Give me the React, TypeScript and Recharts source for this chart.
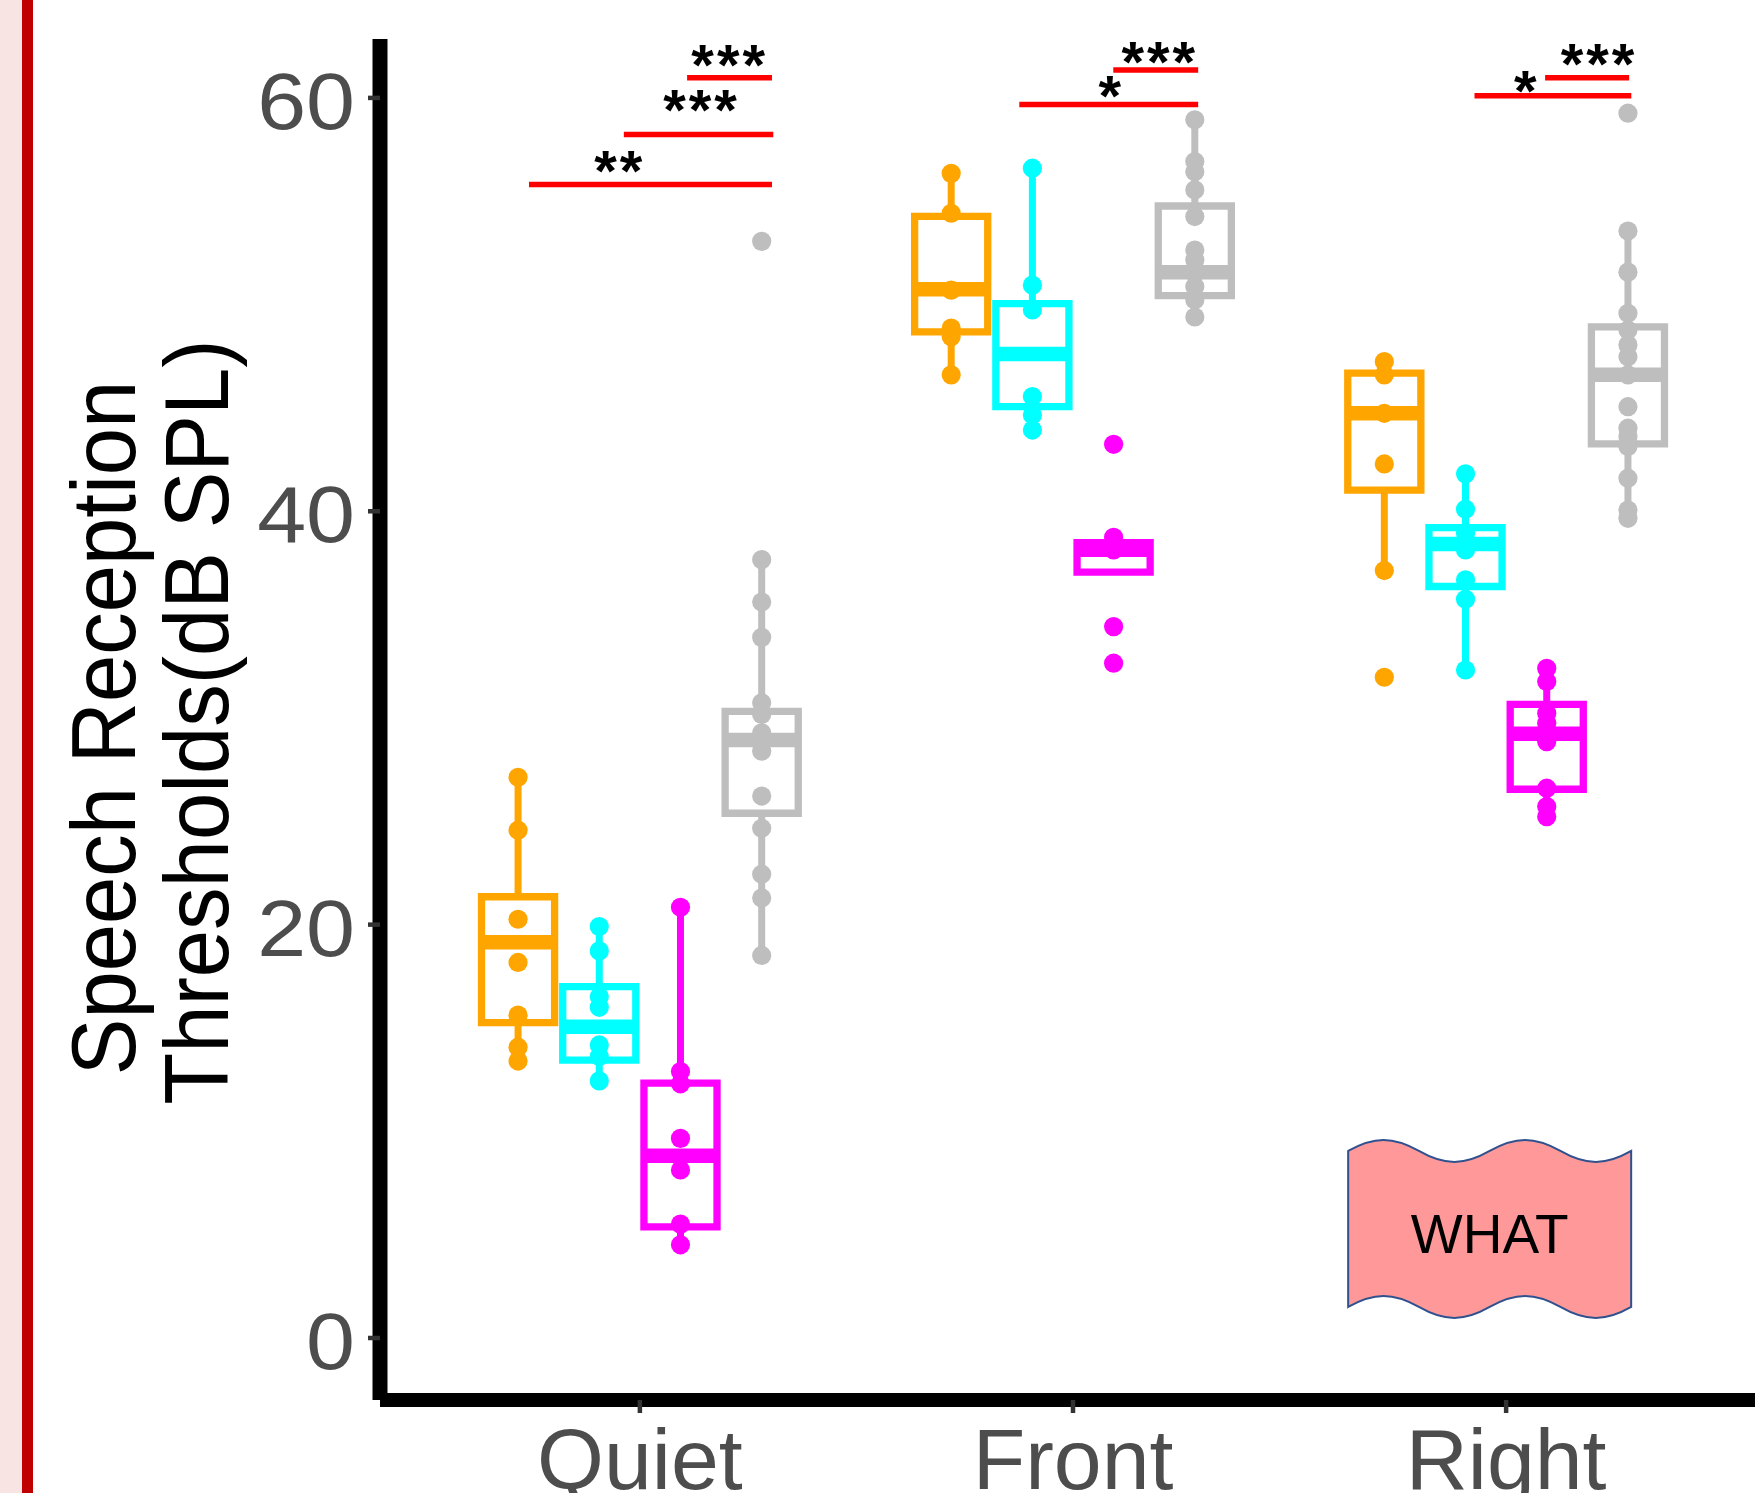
import React from 'react';
import { ComposedChart, Scatter, XAxis, YAxis } from 'recharts';

// ---------- data ----------
const categories = ['Quiet', 'Front', 'Right'];
const yTicks = [0, 20, 40, 60];
const groupColors = ['#FFA500', '#00FFFF', '#FF00FF', '#BEBEBE'];

// box stats per category: [lower whisker, Q1, median, Q3, upper whisker]
const orangeBoxes = [
  [13.4, 15.26, 19.15, 21.35, 27.13],
  [46.6, 48.68, 50.74, 54.27, 56.35],
  [37.13, 41.02, 44.74, 46.68, 47.24],
];
const cyanBoxes = [
  [12.44, 13.44, 15.06, 17.0, 19.91],
  [43.93, 45.06, 47.61, 50.05, 56.6],
  [32.32, 36.36, 38.42, 39.21, 41.81],
];
const magentaBoxes = [
  [4.51, 5.38, 8.82, 12.33, 20.84],
  [37.06, 37.06, 38.14, 38.48, 38.74],
  [25.22, 26.55, 29.23, 30.66, 32.4],
];
const grayBoxes = [
  [18.51, 25.39, 28.93, 30.32, 37.66],
  [49.4, 50.43, 51.57, 54.77, 58.94],
  [39.66, 43.26, 46.6, 48.92, 53.56],
];

// individual observations per category
const orangePoints = [
  [27.13, 24.57, 20.26, 18.17, 15.62, 14.07, 13.4],
  [56.35, 54.42, 50.7, 48.86, 48.45, 46.6],
  [47.24, 46.6, 44.74, 42.29, 37.13, 31.97],
];
const cyanPoints = [
  [19.91, 18.73, 16.51, 16.0, 14.18, 13.62, 12.44],
  [56.6, 50.94, 49.74, 45.55, 44.66, 43.93],
  [41.81, 40.1, 38.94, 38.45, 38.13, 36.68, 35.74, 32.32],
];
const magentaPoints = [
  [20.84, 12.89, 12.3, 9.66, 8.13, 5.51, 4.51],
  [43.24, 38.74, 38.13, 34.42, 32.65],
  [32.4, 31.76, 30.23, 29.74, 28.85, 26.6, 25.71, 25.22],
];
const grayPoints = [
  [53.06, 37.66, 35.61, 33.9, 30.73, 30.17, 29.28, 28.39, 26.22, 24.66, 22.44, 21.29, 18.51],
  [58.94, 56.92, 56.43, 55.55, 54.26, 52.64, 52.16, 51.51, 50.87, 50.22, 49.4],
  [59.26, 53.56, 51.57, 49.58, 48.77, 48.05, 47.48, 46.6, 45.06, 44.02, 43.61, 43.13, 41.6, 40.06, 39.66],
];

// significance brackets (x in category units, y in dB SPL)
const sigBars = [
  { x1: 1.109, x2: 1.305, y: 60.97, label: '***', lx: 1.204, ly: 61.96 },
  { x1: 0.963, x2: 1.308, y: 58.23, label: '***', lx: 1.139, ly: 59.76 },
  { x1: 0.744, x2: 1.305, y: 55.81, label: '**', lx: 0.95, ly: 56.83 },
  { x1: 2.093, x2: 2.289, y: 61.35, label: '***', lx: 2.197, ly: 62.08 },
  { x1: 1.876, x2: 2.289, y: 59.68, label: '*', lx: 2.085, ly: 60.46 },
  { x1: 3.09, x2: 3.284, y: 60.97, label: '***', lx: 3.211, ly: 62.01 },
  { x1: 2.927, x2: 3.289, y: 60.1, label: '*', lx: 3.044, ly: 60.68 },
];

// annotation anchor
const note = [{ x: 2.962, y: 5.3, text: 'WHAT' }];

// ---------- layout helpers ----------
const FONT = 'Liberation Sans, Arial, Helvetica, sans-serif';
const DODGE = 0.75;
const NG = 4;
const HALF = (DODGE / NG) * 0.9 / 2;
const groupX = (c: number, g: number) => c + 1 + (g - (NG - 1) / 2) * (DODGE / NG);

const allBoxes = [orangeBoxes, cyanBoxes, magentaBoxes, grayBoxes];
const allPoints = [orangePoints, cyanPoints, magentaPoints, grayPoints];

const Nothing = () => <g />;

const XTick = (props: any) => {
  const { x, y, payload } = props;
  return (
    <text x={x} y={y + 76} textAnchor="middle" fill="#4D4D4D" fontSize={86} fontFamily={FONT}>
      {categories[Math.round(payload.value) - 1]}
    </text>
  );
};

const YTick = (props: any) => {
  const { x, y, payload } = props;
  return (
    <text
      transform={`translate(${x + 2} ${y + 31}) scale(1.1 1)`}
      textAnchor="end"
      fill="#4D4D4D"
      fontSize={80}
      fontFamily={FONT}
    >
      {payload.value}
    </text>
  );
};

const StarShape = (props: any) => {
  const { cx, cy, payload } = props;
  const fs = 58;
  return (
    <text
      x={cx + 1.5}
      y={cy + 0.47 * fs}
      textAnchor="middle"
      fontSize={fs}
      fontWeight="bold"
      fontFamily={FONT}
      letterSpacing={3}
      fill="#000"
    >
      {payload.label}
    </text>
  );
};

const FlagShape = (props: any) => {
  const { cx, cy, payload } = props;
  const w = 141.5;
  const top = -77.5;
  const bot = 78.5;
  const h = 70.75;
  const a = 14.7;
  const up = `c ${h * 0.36} ${-a} ${h * 0.64} ${-a} ${h} 0`;
  const dn = `c ${h * 0.36} ${a} ${h * 0.64} ${a} ${h} 0`;
  const upL = `c ${-h * 0.36} ${-a} ${-h * 0.64} ${-a} ${-h} 0`;
  const dnL = `c ${-h * 0.36} ${a} ${-h * 0.64} ${a} ${-h} 0`;
  const d = `M ${-w} ${top} ${up} ${dn} ${up} ${dn} L ${w} ${bot} ${dnL} ${upL} ${dnL} ${upL} Z`;
  return (
    <g transform={`translate(${cx} ${cy})`}>
      <path d={d} fill="#FF9999" stroke="#2F528F" strokeWidth={2} />
      <text x={0} y={24.5} textAnchor="middle" fontSize={55} fontFamily={FONT} fill="#000">
        {payload.text}
      </text>
    </g>
  );
};

const PointShape = (color: string) => (props: any) => (
  <circle cx={props.cx} cy={props.cy} r={9.6} fill={color} />
);

// ---------- build layers ----------
const boxLayers: React.ReactNode[] = [];
allBoxes.forEach((boxes, g) => {
  const color = groupColors[g];
  boxes.forEach(([lo, q1, med, q3, hi], c) => {
    const xc = groupX(c, g);
    const x1 = xc - HALF;
    const x2 = xc + HALF;
    const k = `${g}-${c}`;
    if (hi > q3) {
      boxLayers.push(
        <Scatter
          key={`uw${k}`}
          data={[{ x: xc, y: q3 }, { x: xc, y: hi }]}
          line={{ stroke: color, strokeWidth: 7, strokeLinecap: 'butt' }}
          lineType="joint"
          shape={Nothing}
          fill={color}
          isAnimationActive={false}
        />
      );
    }
    if (lo < q1) {
      boxLayers.push(
        <Scatter
          key={`lw${k}`}
          data={[{ x: xc, y: lo }, { x: xc, y: q1 }]}
          line={{ stroke: color, strokeWidth: 7, strokeLinecap: 'butt' }}
          lineType="joint"
          shape={Nothing}
          fill={color}
          isAnimationActive={false}
        />
      );
    }
    boxLayers.push(
      <Scatter
        key={`bx${k}`}
        data={[
          { x: x1, y: q1 },
          { x: x2, y: q1 },
          { x: x2, y: q3 },
          { x: x1, y: q3 },
          { x: x1, y: q1 },
          { x: x2, y: q1 },
        ]}
        line={{ stroke: color, strokeWidth: 7.3, strokeLinejoin: 'miter', strokeLinecap: 'butt' }}
        lineType="joint"
        shape={Nothing}
        fill={color}
        isAnimationActive={false}
      />
    );
    boxLayers.push(
      <Scatter
        key={`md${k}`}
        data={[{ x: x1, y: med }, { x: x2, y: med }]}
        line={{ stroke: color, strokeWidth: 14.5, strokeLinecap: 'butt' }}
        lineType="joint"
        shape={Nothing}
        fill={color}
        isAnimationActive={false}
      />
    );
  });
});

const pointLayers = allPoints.map((pts, g) => {
  const data: { x: number; y: number }[] = [];
  pts.forEach((vals, c) => vals.forEach((v) => data.push({ x: groupX(c, g), y: v })));
  return (
    <Scatter
      key={`pt${g}`}
      data={data}
      fill={groupColors[g]}
      shape={PointShape(groupColors[g])}
      isAnimationActive={false}
    />
  );
});

const sigLayers = sigBars.map((b, i) => (
  <Scatter
    key={`sg${i}`}
    data={[{ x: b.x1, y: b.y }, { x: b.x2, y: b.y }]}
    line={{ stroke: '#FF0000', strokeWidth: 5.5, strokeLinecap: 'butt' }}
    lineType="joint"
    shape={Nothing}
    fill="#FF0000"
    isAnimationActive={false}
  />
));

const starData = sigBars.map((b) => ({ x: b.lx, y: b.ly, label: b.label }));

export default function App() {
  return (
    <div
      style={{
        position: 'absolute',
        left: 0,
        top: 0,
        width: 1755,
        height: 1493,
        overflow: 'hidden',
        background: '#FFFFFF',
      }}
    >
      <div style={{ position: 'absolute', left: 0, top: 0, width: 22, height: 1493, background: '#F9E4E4' }} />
      <div style={{ position: 'absolute', left: 22, top: 0, width: 11, height: 1493, background: '#C00000' }} />
      <div style={{ position: 'absolute', left: 0, top: 0 }}>
        <ComposedChart width={1766} height={1520} margin={{ top: 39, right: 0, bottom: 0, left: 0 }}>
          <XAxis
            xAxisId="top"
            orientation="top"
            type="number"
            dataKey="x"
            domain={[0.4, 3.6]}
            allowDataOverflow
            height={0}
            tick={false}
            tickLine={false}
            axisLine={{ stroke: '#333333', strokeWidth: 2 }}
          />
          <XAxis
            type="number"
            dataKey="x"
            domain={[0.4, 3.6]}
            ticks={[1, 2, 3]}
            allowDataOverflow
            height={120}
            tickSize={13}
            tickMargin={0}
            tick={XTick}
            tickLine={{ stroke: '#333333', strokeWidth: 4.5 }}
            axisLine={{ stroke: '#000000', strokeWidth: 14 }}
            interval={0}
          />
          <YAxis
            type="number"
            dataKey="y"
            domain={[-3.0, 62.85]}
            ticks={yTicks}
            allowDataOverflow
            width={380}
            tickSize={12}
            tickMargin={15}
            tick={YTick}
            tickLine={{ stroke: '#333333', strokeWidth: 4.5 }}
            axisLine={{ stroke: '#000000', strokeWidth: 15 }}
            interval={0}
          />
          {boxLayers}
          {pointLayers}
          {sigLayers}
          <Scatter data={starData} shape={StarShape} fill="#000" isAnimationActive={false} />
          <Scatter data={note} shape={FlagShape} fill="#FF9999" isAnimationActive={false} />
        </ComposedChart>
      </div>
      <svg width={380} height={1493} style={{ position: 'absolute', left: 0, top: 0 }}>
        <text
          transform="translate(135 728) scale(1.07 1) rotate(-90)"
          textAnchor="middle"
          fontSize={85}
          fontFamily={FONT}
          fill="#000"
        >
          Speech Reception
        </text>
        <text
          transform="translate(228 722) scale(1.07 1) rotate(-90)"
          textAnchor="middle"
          fontSize={85}
          fontFamily={FONT}
          fill="#000"
        >
          Thresholds(dB SPL)
        </text>
      </svg>
    </div>
  );
}
